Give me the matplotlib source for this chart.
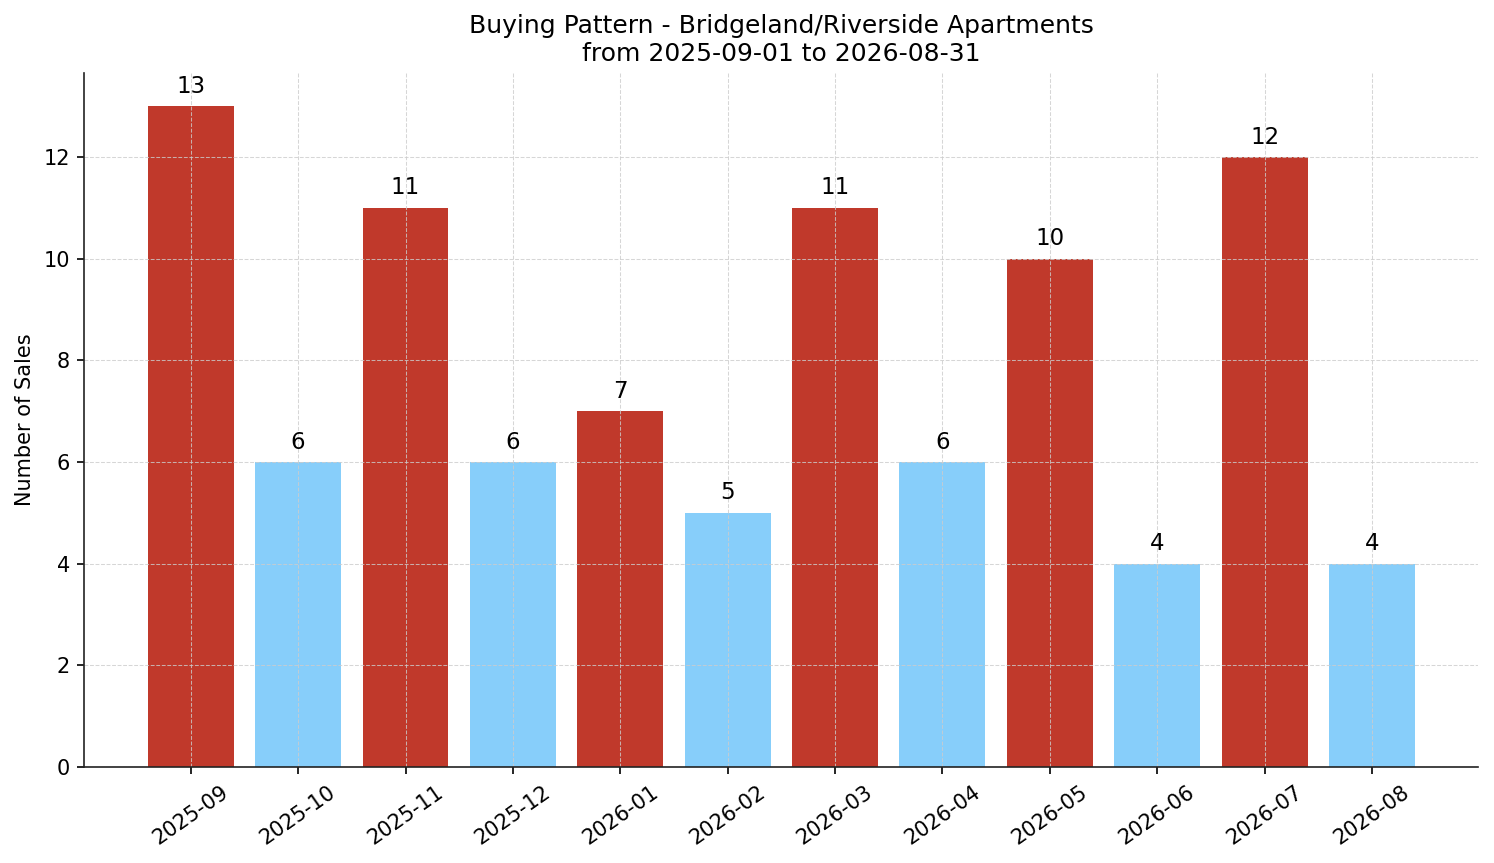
import numpy as np
import matplotlib
matplotlib.use("Agg")
import matplotlib.pyplot as plt

months = ["2025-09", "2025-10", "2025-11", "2025-12", "2026-01", "2026-02",
          "2026-03", "2026-04", "2026-05", "2026-06", "2026-07", "2026-08"]
sales = [13, 6, 11, 6, 7, 5, 11, 6, 10, 4, 12, 4]

HIGH_COLOR = "#c0392b"
LOW_COLOR = "#87cefa"

# months above the median get the "high" colour
median = np.median(sales)
colors = [HIGH_COLOR if v > median else LOW_COLOR for v in sales]

fig, ax = plt.subplots(figsize=(1494 / 150, 863 / 150), dpi=150)
fig.subplots_adjust(left=0.0565, right=0.9895, top=0.9154, bottom=0.1112)

x = np.arange(len(months))
bars = ax.bar(x, sales, width=0.8, color=colors)
ax.bar_label(bars, padding=4, fontsize=11)

ax.set_xticks(x)
ax.set_xticklabels(months, rotation=35, ha="center")
ax.set_ylabel("Number of Sales", fontsize=10)
ax.set_title("Buying Pattern - Bridgeland/Riverside Apartments\nfrom 2025-09-01 to 2026-08-31",
             fontsize=12)

ax.grid(True, linestyle="--", linewidth=0.5, color="#cccccc", alpha=0.8)
ax.spines["top"].set_visible(False)
ax.spines["right"].set_visible(False)
for side in ("left", "bottom"):
    ax.spines[side].set_color("#222222")

fig.savefig("out.png", dpi=150)
